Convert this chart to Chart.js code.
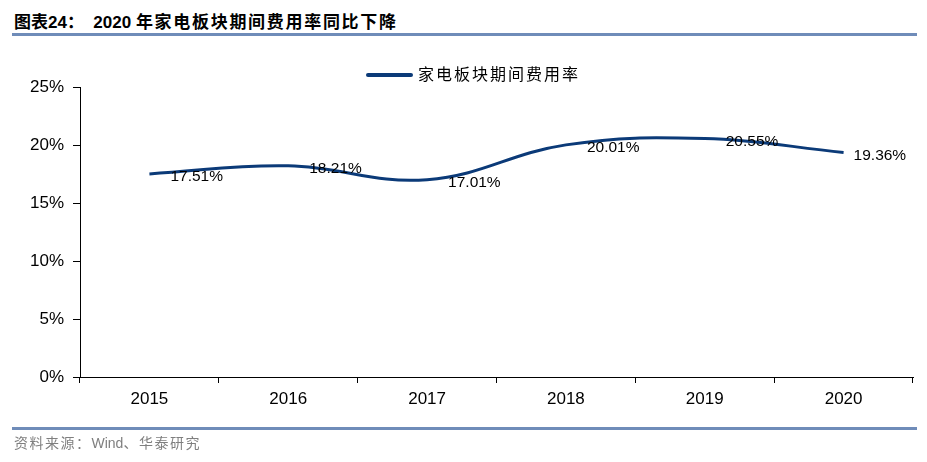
<!DOCTYPE html>
<html lang="zh">
<head>
    <meta charset="UTF-8">
    <title>2020 年家电板块期间费用率同比下降</title>
    <script src="https://cdn.jsdelivr.net/npm/chart.js"></script>
    <style>
        body {
            margin: 0;
            padding: 0;
            background: #fff;
            width: 927px;
            height: 462px;
            position: relative;
            overflow: hidden;
            font-family: "Liberation Sans", Arial, "Noto Sans CJK SC", sans-serif;
        }
        #title {
            position: absolute;
            left: 14px;
            top: 8px;
            font-size: 17px;
            font-weight: bold;
            white-space: pre;
            color: #000;
        }
        #title .cjk {
            letter-spacing: 1.7px;
        }
        .rule {
            position: absolute;
            left: 12px;
            width: 905px;
            height: 3px;
            background: #6f8cb9;
        }
        #footer {
            position: absolute;
            left: 14px;
            top: 432px;
            font-size: 14px;
            color: #7f7f7f;
        }
        #footer .cjk {
            letter-spacing: 1.5px;
        }
        .chartBox {
            position: absolute;
            left: 0;
            top: 0;
            width: 927px;
            height: 462px;
        }
    </style>
</head>
<body>
    <div id="title"><span>图表24：</span>  2020 <span class="cjk">年家电板块期间费用率同比下降</span></div>
    <div class="rule" style="top:33px"></div>
    <div class="chartBox">
        <canvas id="myChart" width="927" height="462"></canvas>
    </div>
    <div class="rule" style="top:427px"></div>
    <div id="footer"><span class="cjk">资料来源：</span>Wind<span class="cjk">、华泰研究</span></div>
    <script>
        const years = ['2015', '2016', '2017', '2018', '2019', '2020'];
        const expenseRate = [17.51, 18.21, 17.01, 20.01, 20.55, 19.36];
        const seriesName = '家电板块期间费用率';
        const yTicks = [0, 5, 10, 15, 20, 25];

        const lineColor = '#0b3a78';

        // legend drawn by hand so it sits where the original one does
        const legendPlugin = {
            id: 'legendLine',
            afterDraw(chart) {
                const c = chart.ctx;
                c.save();
                c.strokeStyle = lineColor;
                c.lineWidth = 4;
                c.lineCap = 'round';
                c.beginPath();
                c.moveTo(368, 75);
                c.lineTo(411, 75);
                c.stroke();
                c.fillStyle = '#000';
                c.font = '16px "Noto Sans CJK SC"';
                c.textBaseline = 'middle';
                // original legend text is widely spaced, one glyph every 18px
                Array.from(seriesName).forEach((ch, i) => {
                    c.fillText(ch, 418 + i * 18, 74);
                });
                c.restore();
            }
        };

        // value labels to the right of each point
        const valueLabels = {
            id: 'valueLabels',
            afterDatasetsDraw(chart) {
                const c = chart.ctx;
                const meta = chart.getDatasetMeta(0);
                c.save();
                c.fillStyle = '#000';
                c.font = '15.5px "Liberation Sans", Arial';
                c.textBaseline = 'middle';
                meta.data.forEach((pt, i) => {
                    const dx = i === meta.data.length - 1 ? 10 : 21;
                    c.fillText(expenseRate[i].toFixed(2) + '%', pt.x + dx, pt.y + 3);
                });
                c.restore();
            }
        };

        const ctx = document.getElementById('myChart');
        const myChart = new Chart(ctx, {
            type: 'line',
            data: {
                labels: years,
                datasets: [{
                    label: seriesName,
                    data: expenseRate,
                    borderColor: lineColor,
                    borderWidth: 3,
                    pointRadius: 0,
                    tension: 0.4,
                    fill: false
                }]
            },
            options: {
                responsive: false,
                animation: false,
                layout: {
                    padding: { top: 87, right: 14, bottom: 45, left: 0 }
                },
                plugins: {
                    legend: { display: false },
                    tooltip: { enabled: false }
                },
                scales: {
                    x: {
                        offset: true,
                        afterFit: (scale) => { scale.height = 40; },
                        grid: {
                            offset: true,
                            drawOnChartArea: false,
                            color: '#000',
                            tickLength: 6
                        },
                        border: { color: '#000', width: 1 },
                        ticks: {
                            color: '#000',
                            padding: 6,
                            font: { family: '"Liberation Sans", Arial', size: 17 }
                        }
                    },
                    y: {
                        min: 0,
                        max: 25,
                        afterFit: (scale) => { scale.width = 80; },
                        afterBuildTicks: (scale) => {
                            scale.ticks = yTicks.map(v => ({ value: v }));
                        },
                        grid: {
                            drawOnChartArea: false,
                            color: '#000',
                            tickLength: 7
                        },
                        border: { color: '#000', width: 1 },
                        ticks: {
                            color: '#000',
                            padding: 9,
                            font: { family: '"Liberation Sans", Arial', size: 17 },
                            callback: (v) => v + '%'
                        }
                    }
                }
            },
            plugins: [legendPlugin, valueLabels]
        });
    </script>
</body>
</html>
